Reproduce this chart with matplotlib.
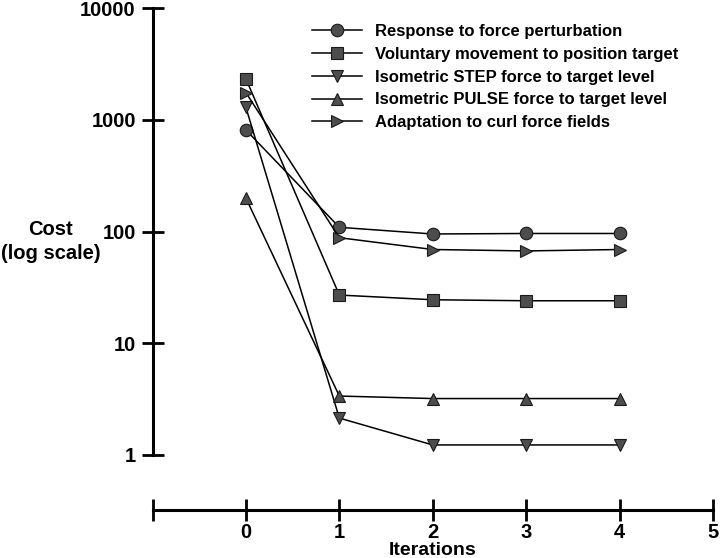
import matplotlib
matplotlib.use("Agg")
import matplotlib.pyplot as plt

plt.rcParams['font.family'] = ['Liberation Sans', 'DejaVu Sans']
plt.rcParams['font.weight'] = 'bold'

iterations = [0, 1, 2, 3, 4]
series_names = [
    "Response to force perturbation",
    "Voluntary movement to position target",
    "Isometric STEP force to target level",
    "Isometric PULSE force to target level",
    "Adaptation to curl force fields",
]
response = [810, 109, 95, 96, 96]
voluntary = [2320, 27, 24.5, 24, 24]
iso_step = [1290, 2.14, 1.23, 1.23, 1.23]
iso_pulse = [199, 3.37, 3.2, 3.2, 3.2]
adaptation = [1750, 88, 69, 67, 69]
markers = ['o', 's', 'v', '^', '>']

x_ticks = [-1, 0, 1, 2, 3, 4, 5]
x_ticklabels = ['', '0', '1', '2', '3', '4', '5']
y_ticks = [1, 10, 100, 1000, 10000]
y_ticklabels = ['1', '10', '100', '1000', '10000']

W, H = 720, 558
x_left, x_right = 152.5, 713
y_top, y_bottom = 8, 510
fig = plt.figure(figsize=(7.2, 5.58), dpi=100)
ax = fig.add_axes([x_left / W, 1 - y_bottom / H, (x_right - x_left) / W, (y_bottom - y_top) / H])

all_series = [response, voluntary, iso_step, iso_pulse, adaptation]
for vals, m, name in zip(all_series, markers, series_names):
    ax.plot(iterations, vals, color='black', lw=1.1, marker=m, markersize=9,
            markerfacecolor='#4d4d4d', markeredgecolor='#1a1a1a', markeredgewidth=0.8,
            label=name)

ax.set_yscale('log')
# 1 decade ~ 111.75 px; axis line 55 px below the "1" tick
ax.set_ylim(10 ** (-55 / 111.75), 10000)
ax.set_xlim(-1, 5)
ax.spines['top'].set_visible(False)
ax.spines['right'].set_visible(False)
ax.spines['left'].set_bounds(1, 10000)
ax.spines['left'].set_linewidth(2.2)
ax.spines['bottom'].set_linewidth(2.2)
ax.set_yticks(y_ticks)
ax.set_yticklabels(y_ticklabels)
ax.yaxis.set_minor_locator(matplotlib.ticker.NullLocator())
ax.set_xticks(x_ticks)
ax.set_xticklabels(x_ticklabels)
ax.tick_params(axis='both', direction='inout', length=16, width=2.0, pad=4)
ax.tick_params(axis='y', labelsize=14.5)
ax.tick_params(axis='x', pad=1, labelsize=14.5)
for lab in ax.get_xticklabels() + ax.get_yticklabels():
    lab.set_fontweight('bold')

fig.text(0.070, 0.567, "Cost\n(log scale)", ha='center', va='center', fontsize=14.5,
         fontweight='bold', linespacing=1.35)
fig.text((x_left + x_right) / 2 / W, 3 / H, "Iterations", ha='center', va='baseline',
         fontsize=14, fontweight='bold')

leg = ax.legend(loc='upper left', bbox_to_anchor=(0.422, 0.972), bbox_transform=fig.transFigure,
                frameon=False, handlelength=3.0, handletextpad=0.78,
                labelspacing=0.47, borderpad=0, prop={'weight': 'bold', 'size': 12})
fig.savefig('out.png', dpi=100)
